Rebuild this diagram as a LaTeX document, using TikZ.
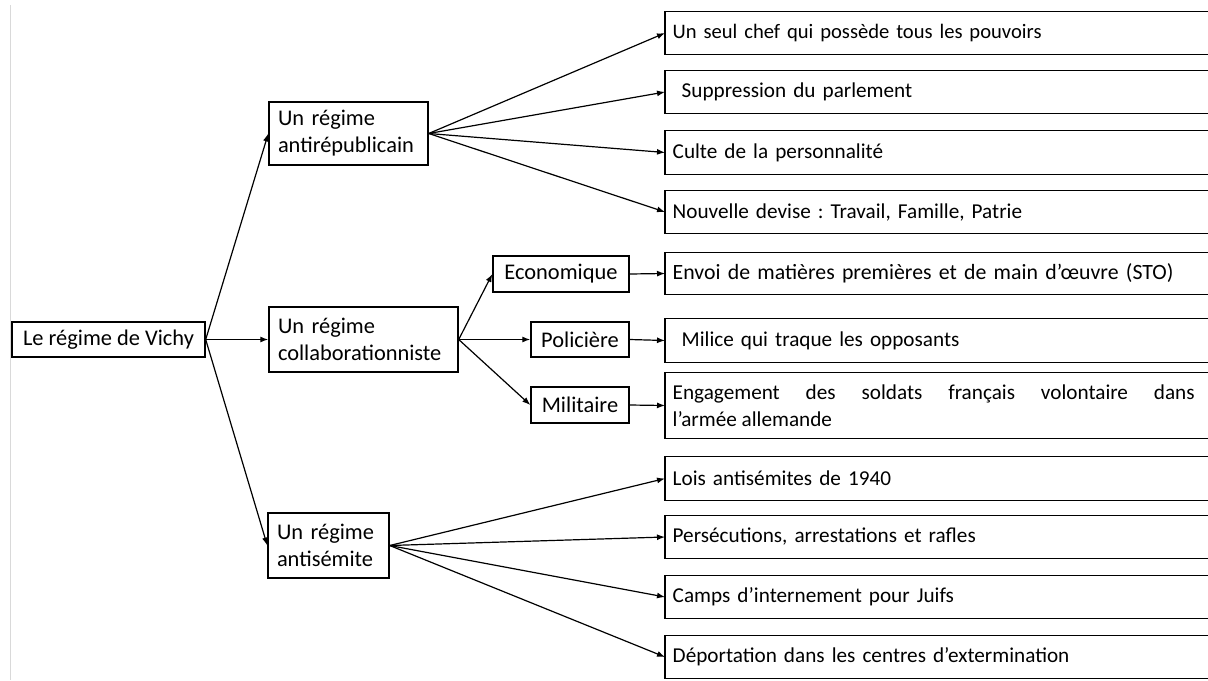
\documentclass[tikz,border=0pt]{standalone}
\usepackage{fontspec}
\setmainfont{Carlito}
\frenchspacing
\usetikzlibrary{arrows.meta}

\tikzset{
  box/.style={draw, line width=0.7pt, inner ysep=0pt, inner xsep=4.5pt, font=\fontsize{11.2}{13.5}\selectfont},
  item/.style={box, draw=none, anchor=west, align=left, text width=300pt, inner xsep=3.5pt, font=\fontsize{10.6}{13.5}\selectfont},
}

\begin{document}
\begin{tikzpicture}[x=0.5pt, y=-0.5pt, >={Latex[length=4pt,width=3pt]}]
\useasboundingbox (0,0) rectangle (1208,680);
\draw[black!15] (10.5,5) -- (10.5,680);

\node[box, minimum width=96.5pt, minimum height=17.5pt] (vichy) at (108.5,339.5) {Le régime de Vichy};

\node[box, align=left, text width=70.5pt, minimum height=31.5pt] (antirep) at (348.5,133.5) {Un régime\\antirépublicain};
\node[box, align=left, text width=85.5pt, minimum height=32.5pt] (collab) at (363.5,339.5) {Un régime\\collaborationniste};
\node[box, align=left, text width=51.5pt, minimum height=32.5pt] (antisem) at (328.5,545.5) {Un régime\\antisémite};

\node[box, minimum width=68pt, minimum height=18pt] (eco) at (561,274) {Economique};
\node[box, minimum width=49pt, minimum height=17.5pt] (pol) at (580,339.5) {Policière};
\node[box, minimum width=49pt, minimum height=18pt] (mil) at (580,405) {Militaire};

% antirepublicain
\node[item, minimum height=21pt, font=\fontsize{10.3}{13.5}\selectfont] (chef) at (665,33) {Un seul chef qui possède tous les pouvoirs};
\node[item, minimum height=21pt] (parlement) at (665,92) {\hspace*{4.5pt}Suppression du parlement};
\node[item, minimum height=21.5pt] (culte) at (665,152.5) {Culte de la personnalité};
\node[item, minimum height=21pt] (devise) at (665,212) {Nouvelle devise : Travail, Famille, Patrie};

% collaborationniste
\node[item, minimum height=20.5pt, font=\fontsize{10.9}{13.5}\selectfont] (envoi) at (665,273.5) {Envoi de matières premières et de main d’œuvre (STO)};
\node[item, minimum height=21.5pt] (milice) at (665,340.5) {\hspace*{4.5pt}Milice qui traque les opposants};
\node[item, align=justify, minimum height=32.5pt] (engagement) at (665,405.5) {\parbox{261pt}{\rightskip=0pt\parfillskip=0pt plus 1fil Engagement des soldats français volontaire dans\linebreak l’armée allemande}};

% antisemite
\node[item, minimum height=21.5pt] (lois) at (665,478.5) {Lois antisémites de 1940};
\node[item, minimum height=21pt] (persecutions) at (665,537) {Persécutions, arrestations et rafles};
\node[item, minimum height=21pt] (camps) at (665,597) {Camps d’internement pour Juifs};
\node[item, minimum height=21pt] (deportation) at (665,657) {Déportation dans les centres d’extermination};

% right-hand boxes run off the page: no right side
\foreach \n in {chef,parlement,culte,devise,envoi,milice,engagement,lois,persecutions,camps,deportation}
  \draw[line width=0.7pt] (\n.north west) ++(330pt,0) -- (\n.north west) -- (\n.south west) -- ++(330pt,0);

\path[->, line width=0.6pt]
  (vichy.east) edge (antirep.west)
               edge (collab.west)
               edge (antisem.west)
  (antirep.east) edge (chef.west)
                 edge (parlement.west)
                 edge (culte.west)
                 edge (devise.west)
  (collab.east) edge (eco.west)
                edge (pol.west)
                edge (mil.west)
  (eco.east) edge (envoi.west)
  (pol.east) edge (milice.west)
  (mil.east) edge (engagement.west)
  (antisem.east) edge (lois.west)
                 edge (persecutions.west)
                 edge (camps.west)
                 edge (deportation.west);
\end{tikzpicture}
\end{document}
